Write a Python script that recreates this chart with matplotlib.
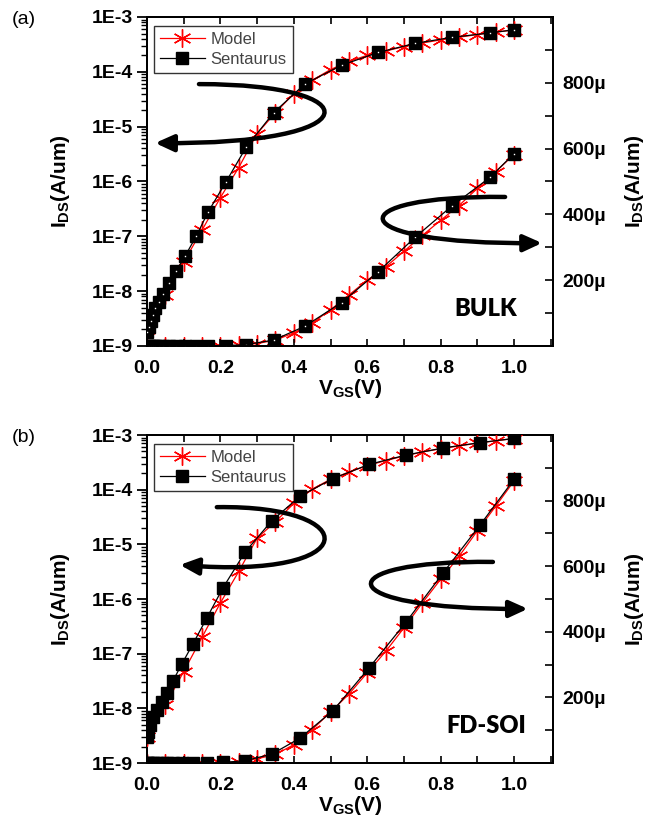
import matplotlib
matplotlib.use("Agg")
import matplotlib.pyplot as plt
import numpy as np
from matplotlib.path import Path
from matplotlib.patches import FancyArrowPatch
from matplotlib.ticker import MultipleLocator, FuncFormatter, LogLocator, NullFormatter

plt.rcParams['font.family'] = ['Liberation Sans', 'DejaVu Sans']
plt.rcParams['mathtext.fontset'] = 'custom'
plt.rcParams['mathtext.rm'] = 'Liberation Sans'
plt.rcParams['mathtext.bf'] = 'Liberation Sans:bold'

# model: sampled every 0.05 V
v_model = np.array([0.0, 0.05, 0.1, 0.15, 0.2, 0.25, 0.3, 0.35, 0.4, 0.45, 0.5,
                    0.55, 0.6, 0.65, 0.7, 0.75, 0.8, 0.85, 0.9, 0.95, 1.0])

# (a) BULK
bulk_model = np.array([2.0e-9, 8.5e-9, 3.4e-8, 1.3e-7, 5.1e-7, 1.8e-6, 7.5e-6, 1.8e-5,
                       4.0e-5, 7.0e-5, 1.1e-4, 1.55e-4, 2.0e-4, 2.4e-4, 2.88e-4,
                       3.36e-4, 3.82e-4, 4.27e-4, 4.79e-4, 5.3e-4, 5.82e-4])
v_bulk_sent = np.array([0.0, 0.005, 0.01, 0.015, 0.022, 0.033, 0.044, 0.06, 0.079,
                        0.104, 0.134, 0.166, 0.215, 0.27, 0.345, 0.43, 0.53, 0.63,
                        0.73, 0.83, 0.935, 1.0])
bulk_sent = np.array([1.8e-9, 2.2e-9, 2.8e-9, 3.6e-9, 5.0e-9, 6.3e-9, 8.9e-9, 1.4e-8,
                      2.3e-8, 4.4e-8, 1.0e-7, 2.75e-7, 9.8e-7, 4.2e-6, 1.8e-5, 6.0e-5,
                      1.32e-4, 2.26e-4, 3.3e-4, 4.25e-4, 5.13e-4, 5.85e-4])

# (b) FD-SOI
soi_model = np.array([3.0e-9, 1.15e-8, 4.7e-8, 2.0e-7, 8.5e-7, 3.2e-6, 1.3e-5, 2.6e-5,
                      5.6e-5, 1.02e-4, 1.55e-4, 2.1e-4, 2.75e-4, 3.4e-4, 4.12e-4,
                      4.88e-4, 5.6e-4, 6.3e-4, 7.08e-4, 7.83e-4, 8.6e-4])
v_soi_sent = np.array([0.0, 0.003, 0.008, 0.016, 0.027, 0.041, 0.054, 0.071, 0.095,
                       0.125, 0.163, 0.207, 0.267, 0.34, 0.417, 0.507, 0.605, 0.706,
                       0.807, 0.907, 1.0])
soi_sent = np.array([3.0e-9, 3.7e-9, 5.0e-9, 6.9e-9, 9.3e-9, 1.3e-8, 1.9e-8, 3.2e-8,
                     6.5e-8, 1.5e-7, 4.5e-7, 1.6e-6, 7.2e-6, 2.7e-5, 7.6e-5, 1.6e-4,
                     2.9e-4, 4.3e-4, 5.8e-4, 7.25e-4, 8.65e-4])

# curved arrows (axes fraction control points)
arrows_a = [[(0.128, 0.796), (0.555, 0.796), (0.555, 0.611), (0.020, 0.617)],
            [(0.882, 0.453), (0.468, 0.459), (0.468, 0.307), (0.973, 0.313)]]
arrows_b = [[(0.172, 0.780), (0.538, 0.787), (0.538, 0.558), (0.081, 0.604)],
            [(0.852, 0.613), (0.440, 0.619), (0.440, 0.466), (0.938, 0.470)]]

fig = plt.figure(figsize=(6.57, 8.22), dpi=100)


def panel(rect, v_m, i_m, v_s, i_s, tag, tag_xy, name, arrows, dots):
    ax = fig.add_axes(rect)
    ax2 = ax.twinx()
    ax.set_zorder(ax2.get_zorder() + 1)
    ax.patch.set_visible(False)

    mk = dict(marker=(6, 2, 0), ms=13, mec='red', mew=1.0, color='red', lw=0.9)
    sq = dict(marker='s', ms=9, mfc='black', mec='black', color='black', lw=0.9)

    ax.semilogy(v_m, i_m, label='Model', zorder=3, **mk)
    ax.semilogy(v_s, i_s, label='Sentaurus', zorder=4, **sq)
    ax2.plot(v_m, i_m, zorder=3, **mk)
    ax2.plot(v_s, i_s, zorder=4, **sq)
    if dots:
        ax.plot(v_s, i_s, 's', ms=1.0, color='white', mec='white', mew=0, zorder=5)
        ax2.plot(v_s, i_s, 's', ms=1.0, color='white', mec='white', mew=0, zorder=5)

    ax.set_xlim(0, 1.106)
    ax.set_ylim(1e-9, 1e-3)
    ax2.set_ylim(0, 1e-3)

    ax.xaxis.set_major_locator(MultipleLocator(0.2))
    ax.xaxis.set_minor_locator(MultipleLocator(0.1))
    ax.xaxis.set_major_formatter(FuncFormatter(lambda v, p: f"{v:.1f}"))
    ax.yaxis.set_major_locator(LogLocator(base=10, numticks=20))
    ax.yaxis.set_minor_locator(LogLocator(base=10, subs=np.arange(2, 10), numticks=20))
    ax.yaxis.set_minor_formatter(NullFormatter())
    ax.yaxis.set_major_formatter(FuncFormatter(lambda v, p: f"1E{int(round(np.log10(v)))}"))

    ax2.yaxis.set_major_locator(MultipleLocator(200e-6))
    ax2.yaxis.set_minor_locator(MultipleLocator(100e-6))
    ax2.yaxis.set_major_formatter(FuncFormatter(
        lambda v, p: '' if v < 1e-6 or v > 9.9e-4 else f"{int(round(v * 1e6))}\u00b5"))

    ax.tick_params(axis='y', which='major', direction='out', length=7, width=1.3,
                   labelsize=14, pad=3, right=False)
    ax.tick_params(axis='y', which='minor', direction='out', length=4, width=1.0, right=False)
    ax.tick_params(axis='x', which='both', direction='in', length=5, width=1.2,
                   labelsize=14, pad=10, top=True)
    ax2.tick_params(axis='y', which='both', direction='in', length=6, width=1.2,
                    labelsize=14, pad=7)
    for a in (ax, ax2):
        for s in a.spines.values():
            s.set_linewidth(1.4)
        for lab in a.get_xticklabels() + a.get_yticklabels():
            lab.set_fontweight('bold')

    ax.set_xlabel(r'$\mathbf{V_{GS}}$(V)', fontsize=15, fontweight='bold', labelpad=0)
    ax.set_ylabel(r'$\mathbf{I_{DS}}$(A/um)', fontsize=15, fontweight='bold', labelpad=14)
    ax2.set_ylabel(r'$\mathbf{I_{DS}}$(A/um)', fontsize=15, fontweight='bold',
                   rotation=90, labelpad=12)

    leg = ax.legend(loc='upper left', bbox_to_anchor=(0.017, 0.973), fontsize=12,
                    frameon=True, fancybox=False, edgecolor='#333333', framealpha=1,
                    handlelength=2.7, borderpad=0.35, labelspacing=0.3,
                    handletextpad=0.35, borderaxespad=0)
    leg.get_frame().set_linewidth(1.0)
    for t in leg.get_texts():
        t.set_color('#444444')

    ax.text(0.835, 0.112, name, transform=ax.transAxes, fontsize=17,
            fontweight='heavy', family='Lato', ha='center', va='center')
    fig.text(tag_xy[0], tag_xy[1], tag, fontsize=14, ha='center', va='center')

    for pts in arrows:
        path = Path(pts, [Path.MOVETO, Path.CURVE4, Path.CURVE4, Path.CURVE4])
        arr = FancyArrowPatch(path=path, arrowstyle='-|>,head_length=11,head_width=5',
                              lw=3.2, color='black', transform=ax.transAxes,
                              clip_on=False, zorder=6)
        ax.add_patch(arr)
    return ax


panel([147 / 657, 1 - 346 / 822, 406 / 657, 329 / 822], v_model, bulk_model,
      v_bulk_sent, bulk_sent, '(a)', (24 / 657, 1 - 19 / 822), 'BULK', arrows_a, True)
panel([147 / 657, 1 - 763 / 822, 406 / 657, 328 / 822], v_model, soi_model,
      v_soi_sent, soi_sent, '(b)', (24 / 657, 1 - 437 / 822), 'FD-SOI', arrows_b, False)

fig.savefig('out.png', dpi=100)
